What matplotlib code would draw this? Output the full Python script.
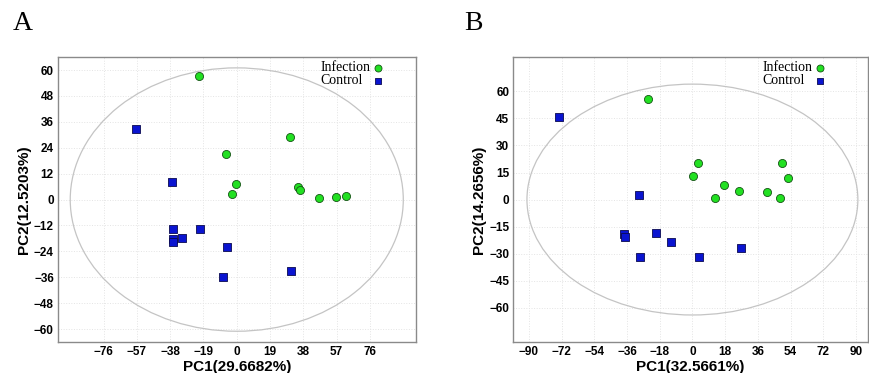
import numpy as np
import matplotlib.pyplot as plt
from matplotlib.patches import Ellipse

plt.rcParams['font.family'] = ['Liberation Sans', 'DejaVu Sans']

# Panel A data
a_inf_x = [-21.7, 30.2, -6.1, -0.6, -2.5, 35.0, 36.1, 46.7, 56.8, 62.3]
a_inf_y = [57.1, 28.9, 21.0, 7.4, 2.6, 6.0, 4.6, 0.9, 1.2, 1.7]
a_ctl_x = [-57.6, -37.2, -36.3, -36.5, -36.1, -31.5, -21.1, -5.3, -8.0, 31.0]
a_ctl_y = [32.9, 8.2, -13.6, -18.5, -19.5, -17.8, -13.8, -22.0, -35.7, -33.2]
a_xticks = [-76, -57, -38, -19, 0, 19, 38, 57, 76]
a_yticks = [-60, -48, -36, -24, -12, 0, 12, 24, 36, 48, 60]

# Panel B data
b_inf_x = [-24.5, 3.3, 0.5, 17.6, 12.3, 25.6, 40.8, 49.3, 52.6, 48.2]
b_inf_y = [55.5, 20.1, 13.3, 8.1, 1.1, 4.8, 4.1, 20.5, 12.0, 0.7]
b_ctl_x = [-73.3, -29.5, -37.9, -37.2, -19.8, -11.9, -28.6, 3.5, 26.9]
b_ctl_y = [45.7, 2.4, -19.2, -20.5, -18.5, -23.7, -31.6, -31.8, -27.0]
b_xticks = [-90, -72, -54, -36, -18, 0, 18, 36, 54, 72, 90]
b_yticks = [-60, -45, -30, -15, 0, 15, 30, 45, 60]

fig = plt.figure(figsize=(8.69, 3.73), dpi=100)

INF_STYLE = dict(s=34, marker='o', color='#22e022', edgecolors='#145214',
                 linewidths=0.6, zorder=3)
CTL_STYLE = dict(s=28, marker='s', color='#0a14d0', edgecolors='#0a0a50',
                 linewidths=0.6, zorder=3)


def panel(rect, ix, iy, cx, cy, xt, yt, xlim, ylim, ell, xlab, ylab,
          letter, lx, leg_tx, leg_mx):
    ax = fig.add_axes(rect)
    ax.set_xlim(*xlim)
    ax.set_ylim(*ylim)
    ax.set_xticks(xt)
    ax.set_yticks(yt)
    ax.tick_params(length=0, labelsize=8.5, pad=3)
    for lab in ax.get_xticklabels() + ax.get_yticklabels():
        lab.set_fontweight('bold')
    ax.grid(True, color='#e4e4e4', linestyle=':', linewidth=0.7)
    ax.set_axisbelow(True)
    for s in ax.spines.values():
        s.set_color('#8a8a8a')
        s.set_linewidth(1.0)
    ax.add_patch(Ellipse((0, 0), ell[0], ell[1], fill=False,
                         edgecolor='#c4c4c4', linewidth=0.9))
    ax.scatter(ix, iy, **INF_STYLE)
    ax.scatter(cx, cy, **CTL_STYLE)

    # legend: text left-aligned, marker column on the right
    for name, yy, style in [('Infection', 0.963, INF_STYLE),
                            ('Control', 0.917, CTL_STYLE)]:
        ax.text(leg_tx, yy, name, transform=ax.transAxes, ha='left',
                va='center', family='Liberation Serif', fontsize=10)
        leg_style = dict(style, s=style['s'] * 0.75)
        ax.scatter([leg_mx], [yy], transform=ax.transAxes, clip_on=False,
                   **leg_style)

    ax.set_xlabel(xlab, fontsize=11, fontweight='bold', labelpad=1)
    ax.set_ylabel(ylab, fontsize=11, fontweight='bold', labelpad=2)
    fig.text(lx, 0.92, letter, family='Liberation Serif', fontsize=20,
             va='baseline')
    return ax


panel([0.0667, 0.083, 0.4115, 0.764], a_inf_x, a_inf_y, a_ctl_x, a_ctl_y,
      a_xticks, a_yticks, (-102, 102), (-66, 66), (190, 122),
      'PC1(29.6682%)', 'PC2(12.5203%)', 'A', 0.015, 0.733, 0.894)

panel([0.5907, 0.083, 0.408, 0.764], b_inf_x, b_inf_y, b_ctl_x, b_ctl_y,
      b_xticks, b_yticks, (-98.5, 96.5), (-79, 79), (182, 128),
      'PC1(32.5661%)', 'PC2(14.2656%)', 'B', 0.534, 0.703, 0.866)

fig.savefig('out.png', dpi=100)
